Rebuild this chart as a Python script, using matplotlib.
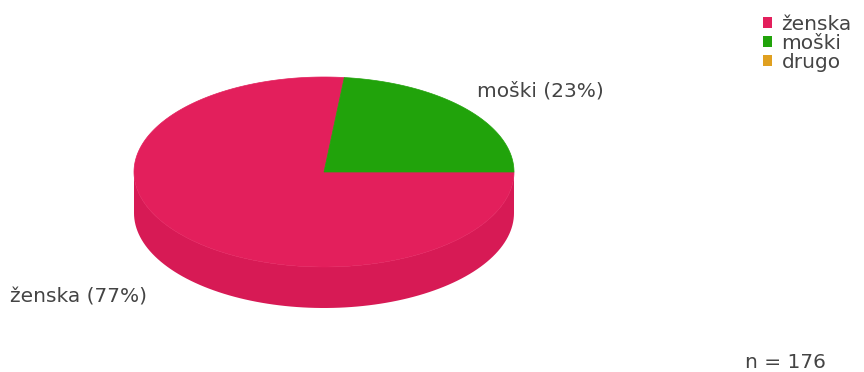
import numpy as np
import matplotlib.pyplot as plt
from matplotlib.patches import Polygon, Patch

labels = ['ženska', 'moški', 'drugo']
counts = [135, 41, 0]
colors = ['#E31F5C', '#21A30B', '#E0A020']
side_colors = ['#D71A55', '#1A8A08', '#C08818']

n = sum(counts)
fracs = [c / n for c in counts]

# pie geometry in pixels
cx, cy = 324, 172
rx, ry = 190, 95
depth = 41

fig = plt.figure(figsize=(8.64, 3.72), dpi=100)
ax = fig.add_axes([0, 0, 1, 1])
ax.set_xlim(0, 864)
ax.set_ylim(372, 0)
ax.axis('off')


def pt(a, dy=0):
    return cx + rx * np.cos(a), cy - ry * np.sin(a) + dy


# slices run clockwise starting at 3 o'clock
start = 0.0
slices = []
for f in fracs:
    end = start - f * 2 * np.pi
    slices.append((start, end))
    start = end

# side walls: only the front half (sin < 0) is visible
for (a0, a1), sc in zip(slices, side_colors):
    lo, hi = min(a0, a1), max(a0, a1)
    for off in (0, -2 * np.pi, 2 * np.pi):
        s = max(lo, -np.pi + off)
        e = min(hi, 0 + off)
        if e - s <= 1e-6:
            continue
        t = np.linspace(s, e, 100)
        x = cx + rx * np.cos(t)
        y = cy - ry * np.sin(t)
        verts = list(zip(x, y)) + list(zip(x[::-1], y[::-1] + depth))
        ax.add_patch(Polygon(verts, closed=True, fc=sc, ec='none'))

# top faces
for (a0, a1), c in zip(slices, colors):
    if abs(a1 - a0) < 1e-6:
        continue
    t = np.linspace(a0, a1, 200)
    verts = [(cx, cy)] + [pt(a) for a in t]
    ax.add_patch(Polygon(verts, closed=True, fc=c, ec=c, lw=0.5))

txt = '#444444'
fs = 14.5
ax.text(477, 91, f'{labels[1]} ({fracs[1]:.0%})', fontsize=fs, color=txt,
        va='center', ha='left')
ax.text(10, 297, f'{labels[0]} ({fracs[0]:.0%})', fontsize=fs, color=txt,
        va='center', ha='left')
ax.text(745, 362, f'n = {n}', fontsize=fs, color=txt, va='center', ha='left')

handles = [Patch(fc=c, ec='none') for c in colors]
ax.legend(handles, labels, loc='upper left', bbox_to_anchor=(763 / 864, 1 - 15 / 372),
          frameon=False, fontsize=fs, handlelength=0.47, handleheight=0.47,
          handletextpad=0.45, labelspacing=0.0, borderaxespad=0, borderpad=0,
          labelcolor=txt)

fig.savefig('out.png', dpi=100, facecolor='white')
